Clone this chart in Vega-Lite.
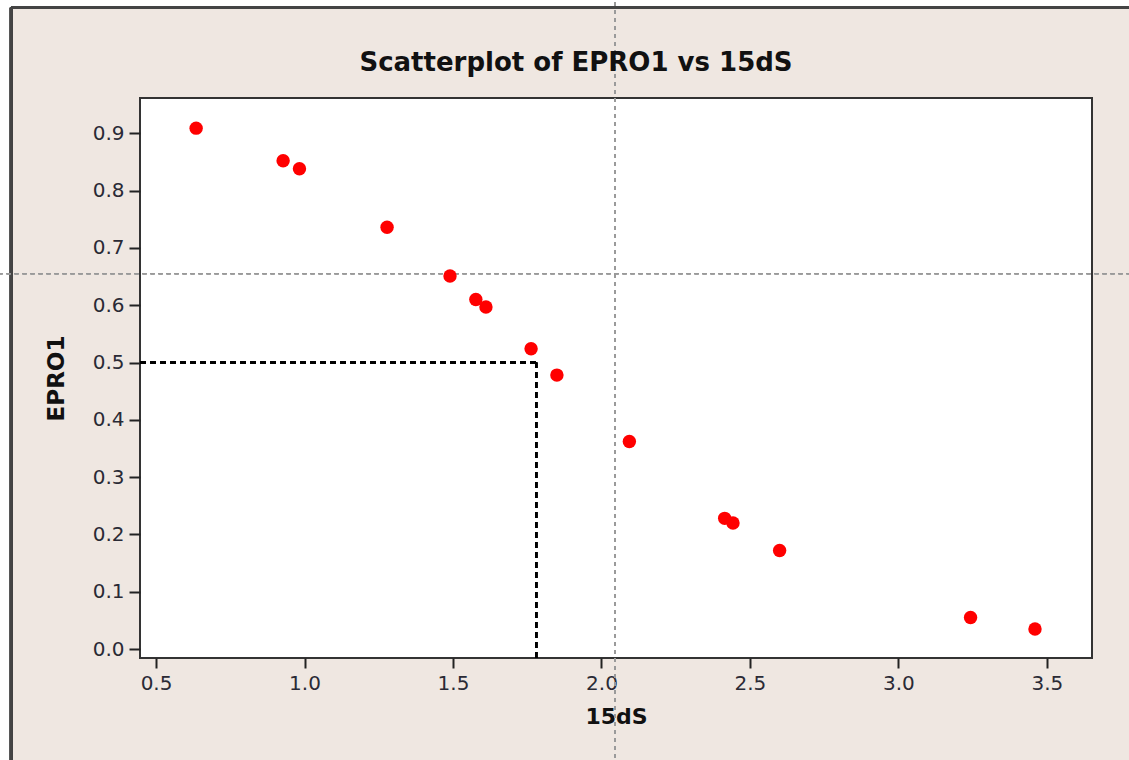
{
  "$schema": "https://vega.github.io/schema/vega-lite/v6.json",
  "autosize": "none",
  "width": 952,
  "height": 560,
  "padding": {"left": 140, "top": 98, "right": 37, "bottom": 102},
  "background": "#EFE7E1",
  "title": {
    "text": "Scatterplot of EPRO1 vs 15dS",
    "font": "DejaVu Sans",
    "fontSize": 26,
    "fontWeight": "bold",
    "color": "#111111",
    "anchor": "middle",
    "baseline": "alphabetic",
    "offset": -97,
    "dx": -40
  },
  "config": {
    "view": {"fill": "white", "stroke": "#333333", "strokeWidth": 2},
    "font": "DejaVu Sans"
  },
  "data": {
    "values": [
      {"dS15": 0.635, "EPRO1": 0.909},
      {"dS15": 0.928, "EPRO1": 0.852},
      {"dS15": 0.983, "EPRO1": 0.838},
      {"dS15": 1.278, "EPRO1": 0.736},
      {"dS15": 1.490, "EPRO1": 0.651},
      {"dS15": 1.577, "EPRO1": 0.610},
      {"dS15": 1.611, "EPRO1": 0.597},
      {"dS15": 1.763, "EPRO1": 0.524},
      {"dS15": 1.850, "EPRO1": 0.478},
      {"dS15": 2.094, "EPRO1": 0.362},
      {"dS15": 2.415, "EPRO1": 0.228},
      {"dS15": 2.443, "EPRO1": 0.220},
      {"dS15": 2.600, "EPRO1": 0.172},
      {"dS15": 3.243, "EPRO1": 0.055},
      {"dS15": 3.460, "EPRO1": 0.035}
    ]
  },
  "layer": [
    {
      "mark": {"type": "rect", "clip": false, "color": "white"},
      "encoding": {
        "x": {"datum": -1, "type": "quantitative"},
        "x2": {"datum": 4.5},
        "y": {"datum": 1.122, "type": "quantitative"},
        "y2": {"datum": 1.1326}
      }
    },
    {
      "mark": {"type": "rect", "clip": false, "color": "white"},
      "encoding": {
        "x": {"datum": -1, "type": "quantitative"},
        "x2": {"datum": 0.0085},
        "y": {"datum": -1, "type": "quantitative"},
        "y2": {"datum": 1.1326}
      }
    },
    {
      "mark": {"type": "rule", "clip": false, "color": "#444444", "strokeWidth": 2.5},
      "encoding": {
        "x": {"datum": 0.012, "type": "quantitative"},
        "x2": {"datum": 4.5},
        "y": {"datum": 1.119, "type": "quantitative"}
      }
    },
    {
      "mark": {"type": "rule", "clip": false, "color": "#444444", "strokeWidth": 2.5},
      "encoding": {
        "x": {"datum": 0.012, "type": "quantitative"},
        "y": {"datum": -1, "type": "quantitative"},
        "y2": {"datum": 1.119}
      }
    },
    {
      "mark": {"type": "rule", "clip": false, "color": "#9a9a9a", "strokeWidth": 1, "strokeDash": [4, 4]},
      "encoding": {
        "x": {"datum": 2.045, "type": "quantitative"},
        "y": {"datum": -1, "type": "quantitative"},
        "y2": {"datum": 1.1326}
      }
    },
    {
      "mark": {"type": "rule", "clip": false, "color": "#9a9a9a", "strokeWidth": 1, "strokeDash": [4, 4]},
      "encoding": {
        "x": {"datum": -1, "type": "quantitative"},
        "x2": {"datum": 4.5},
        "y": {"datum": 0.655, "type": "quantitative"}
      }
    },
    {
      "mark": {"type": "rule", "color": "black", "strokeWidth": 1.5, "strokeDash": [6, 4]},
      "encoding": {
        "x": {"datum": 0.446, "type": "quantitative"},
        "x2": {"datum": 1.781},
        "y": {"datum": 0.5, "type": "quantitative"}
      }
    },
    {
      "mark": {"type": "rule", "color": "black", "strokeWidth": 1.5, "strokeDash": [6, 4]},
      "encoding": {
        "x": {"datum": 1.781, "type": "quantitative"},
        "y": {"datum": -0.0157, "type": "quantitative"},
        "y2": {"datum": 0.5}
      }
    },
    {
      "mark": {"type": "point", "filled": true, "size": 180, "color": "#FF0000", "opacity": 1, "shape": "circle"},
      "encoding": {
        "x": {
          "field": "dS15",
          "type": "quantitative",
          "title": "15dS",
          "scale": {"domain": [0.446, 3.652], "nice": false, "zero": false},
          "axis": {
            "values": [0.5, 1.0, 1.5, 2.0, 2.5, 3.0, 3.5],
            "format": ".1f",
            "grid": false,
            "domain": false,
            "tickColor": "#222222",
            "tickWidth": 2,
            "tickSize": 10,
            "labelFont": "DejaVu Sans",
            "labelFontSize": 20,
            "labelColor": "#2a2a35",
            "labelPadding": 5,
            "titleFont": "DejaVu Sans",
            "titleFontSize": 22,
            "titleFontWeight": "bold",
            "titleColor": "#111111",
            "titlePadding": 13
          }
        },
        "y": {
          "field": "EPRO1",
          "type": "quantitative",
          "title": "EPRO1",
          "scale": {"domain": [-0.0157, 0.9616], "nice": false, "zero": false},
          "axis": {
            "values": [0, 0.1, 0.2, 0.3, 0.4, 0.5, 0.6, 0.7, 0.8, 0.9],
            "format": ".1f",
            "grid": false,
            "domain": false,
            "tickColor": "#222222",
            "tickWidth": 2,
            "tickSize": 11,
            "labelFont": "DejaVu Sans",
            "labelFontSize": 20,
            "labelColor": "#2a2a35",
            "labelPadding": 5,
            "titleFont": "DejaVu Sans",
            "titleFontSize": 23,
            "titleFontWeight": "bold",
            "titleColor": "#111111",
            "titlePadding": 24
          }
        }
      }
    }
  ]
}
